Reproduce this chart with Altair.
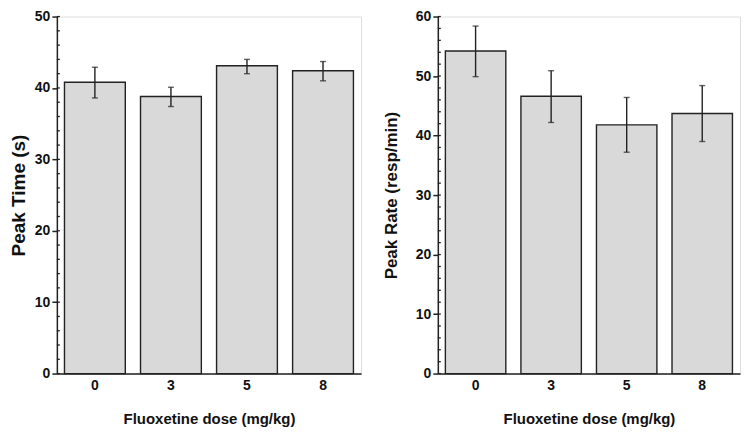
import altair as alt
import pandas as pd

doses = ["0", "3", "5", "8"]

time_mean = [40.8, 38.8, 43.1, 42.4]
time_hi = [42.9, 40.1, 44.0, 43.7]
time_lo = [38.6, 37.4, 42.0, 41.0]

rate_mean = [54.2, 46.6, 41.8, 43.7]
rate_hi = [58.4, 50.9, 46.4, 48.4]
rate_lo = [49.9, 42.2, 37.2, 39.0]

time_major = [0, 10, 20, 30, 40, 50]
time_minor = [2, 4, 6, 8, 12, 14, 16, 18, 22, 24, 26, 28, 32, 34, 36, 38, 42, 44, 46, 48]
rate_major = [0, 10, 20, 30, 40, 50, 60]
rate_minor = [2, 4, 6, 8, 12, 14, 16, 18, 22, 24, 26, 28, 32, 34, 36, 38,
              42, 44, 46, 48, 52, 54, 56, 58]

FONT = "Liberation Sans"
INK = "#222222"


def panel(mean, hi, lo, major, minor, ymax, ytitle, tsize, tpad, width):
    df = pd.DataFrame({"dose": doses, "mean": mean, "hi": hi, "lo": lo})
    ticks = pd.DataFrame({"v": major + minor})
    xenc = alt.X("dose:N", sort=doses,
                 scale=alt.Scale(paddingInner=0.2, paddingOuter=0.1),
                 axis=alt.Axis(title="Fluoxetine dose (mg/kg)", labelAngle=0,
                               ticks=False, labelPadding=5, titlePadding=19,
                               labelFont=FONT, labelFontSize=14, labelFontWeight="bold",
                               labelColor="#111", titleFont=FONT, titleFontSize=15,
                               titleFontWeight="bold", titleColor="#111",
                               domainColor=INK, domainWidth=1.5))
    yscale = alt.Scale(domain=[0, ymax], nice=False, zero=True)
    yaxis = alt.Axis(title=ytitle, values=major, tickSize=5, tickColor=INK,
                     tickWidth=1.5, labelPadding=2, titlePadding=tpad,
                     labelFont=FONT, labelFontSize=14, labelFontWeight="bold",
                     labelColor="#111", titleFont=FONT, titleFontSize=tsize,
                     titleFontWeight="bold", titleColor="#111",
                     domainColor=INK, domainWidth=1.5, grid=False)
    bars = alt.Chart(df).mark_bar(color="#d9d9d9", stroke=INK, strokeWidth=1.4).encode(
        x=xenc, y=alt.Y("mean:Q", scale=yscale, axis=yaxis))
    err = alt.Chart(df).mark_rule(color=INK, strokeWidth=1.4).encode(
        x=alt.X("dose:N", sort=doses), y="lo:Q", y2="hi:Q")
    cap_hi = alt.Chart(df).mark_tick(color=INK, size=6, thickness=1.4).encode(
        x=alt.X("dose:N", sort=doses), y="hi:Q")
    cap_lo = alt.Chart(df).mark_tick(color=INK, size=6, thickness=1.4).encode(
        x=alt.X("dose:N", sort=doses), y="lo:Q")
    inner = alt.Chart(ticks).mark_rule(color=INK, strokeWidth=1.3).encode(
        y="v:Q", x=alt.value(0), x2=alt.value(3))
    return alt.layer(bars, err, cap_hi, cap_lo, inner).properties(width=width, height=358)


left = panel(time_mean, time_hi, time_lo, time_major, time_minor, 50,
             "Peak Time (s)", 19, 6, 305)
right = panel(rate_mean, rate_hi, rate_lo, rate_major, rate_minor, 60,
              "Peak Rate (resp/min)", 17, 15, 303)

chart = alt.hconcat(left, right, spacing=19).properties(
    padding={"left": 0, "top": 0, "right": 0, "bottom": 0}
).configure_view(stroke=None).configure(background="white")

chart.save("out.html", embed_options={"renderer": "svg", "actions": False})
